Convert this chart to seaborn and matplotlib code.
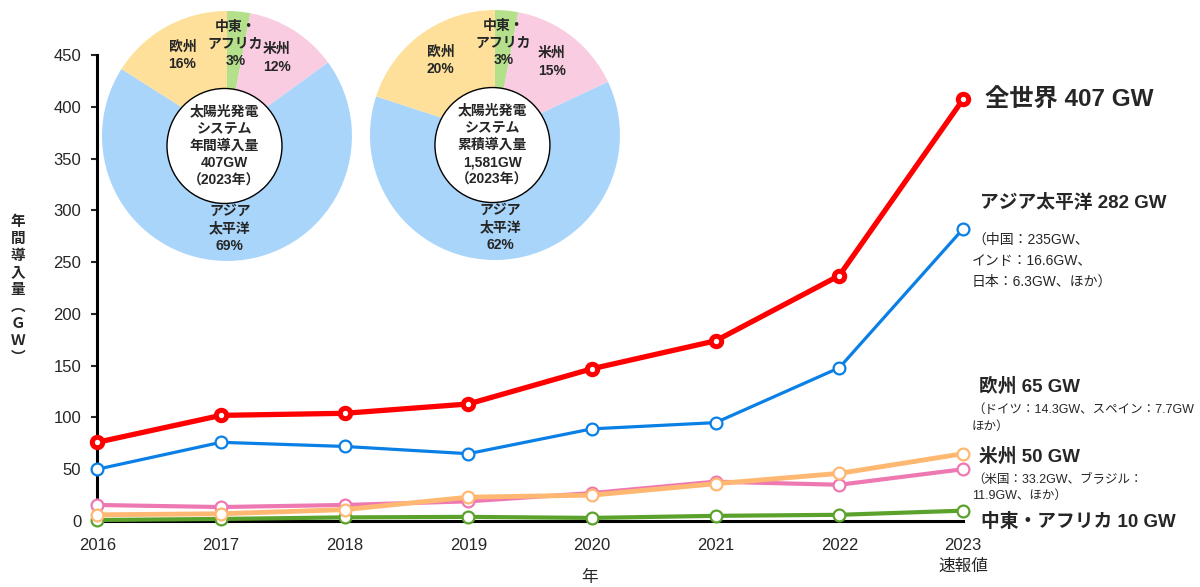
import numpy as np
import pandas as pd
import matplotlib
matplotlib.use('Agg')
import matplotlib.pyplot as plt
import matplotlib.patches as patches
import seaborn as sns

sns.set_style('white')
plt.rcParams['font.family'] = ['Liberation Sans', 'Noto Sans CJK JP']

# annual PV installations (GW)
years = [2016, 2017, 2018, 2019, 2020, 2021, 2022, 2023]
world = [76, 102, 104, 113, 147, 174, 237, 407]
asia = [50, 76, 72, 65, 89, 95, 148, 282]
europe = [6, 7, 11, 23, 25, 36, 46, 65]
americas = [15.5, 13.5, 15.5, 19, 27, 38, 35, 50]
mea = [1, 2, 3.5, 4, 3, 5, 6, 10]
year_labels = ['2016', '2017', '2018', '2019', '2020', '2021', '2022', '2023\n速報値']

# pie shares (%), order clockwise from top
pie_regions = ['中東・\nアフリカ', '米州', 'アジア\n太平洋', '欧州']
annual_share = [3, 12, 69, 16]
cumulative_share = [3, 15, 62, 20]
pie_colors = ['#B5E08B', '#F9CCE1', '#A9D5FB', '#FEE09A']

fig = plt.figure(figsize=(12, 5.87), dpi=100)
ax = fig.add_axes([0.081, 0.1124, 0.7215, 0.794])

series = [
    (mea, '#5BA22D', 3.0),
    (americas, '#EE78B2', 3.0),
    (europe, '#FFB872', 3.5),
    (asia, '#0A7FE6', 2.3),
]
for vals, c, lw in series:
    sns.lineplot(x=years, y=vals, ax=ax, color=c, lw=lw, marker='o', markersize=8.5,
                 markerfacecolor='white', markeredgecolor=c, markeredgewidth=1.6,
                 clip_on=False, zorder=3)
sns.lineplot(x=years, y=world, ax=ax, color='#FF0000', lw=3.8, marker='o', markersize=7.5,
             markerfacecolor='white', markeredgecolor='#FF0000', markeredgewidth=3.6,
             clip_on=False, zorder=4)

ax.set_xlim(2016, 2023)
ax.set_ylim(0, 450)
ax.set_yticks(range(0, 451, 50))
ax.set_xticks(years, year_labels)
for s in ['top', 'right']:
    ax.spines[s].set_visible(False)
for s in ['left', 'bottom']:
    ax.spines[s].set_linewidth(2.2)
    ax.spines[s].set_color('black')
ax.tick_params(axis='y', direction='out', length=4.5, width=1.5, pad=7, labelsize=12, left=True)
ax.tick_params(axis='x', length=0, pad=12, labelsize=12)
for lab in ax.get_xticklabels():
    lab.set_linespacing(1.5)
    lab.set_va('top')
ax.set_xlabel('')
ax.set_ylabel('')

fig.text(18 / 1200, 1 - 290 / 587, '年\n間\n導\n入\n量\n︵\nＧ\nＷ\n︶', fontsize=10.5,
         fontweight='bold', ha='center', va='center', linespacing=1.28)
fig.text(590 / 1200, 1 - 577 / 587, '年', fontsize=12, ha='center', va='center')

# right side annotations
def rtext(x, y, s, size, bold=True, ls=1.2):
    fig.text(x / 1200, 1 - y / 587, s, fontsize=size, fontweight='bold' if bold else 'normal',
             ha='left', va='center', linespacing=ls)

rtext(985, 100, '全世界 407 GW', 17.5)
rtext(980, 203, 'アジア太平洋 282 GW', 13.5)
rtext(972, 260.5, '（中国：235GW、\nインド：16.6GW、\n日本：6.3GW、ほか）', 10, bold=False, ls=1.62)
rtext(979, 387, '欧州 65 GW', 13.5)
rtext(972, 418.5, '（ドイツ：14.3GW、スペイン：7.7GW\nほか）', 9, bold=False, ls=1.5)
rtext(979, 457, '米州 50 GW', 13.5)
rtext(972, 487.5, '（米国：33.2GW、ブラジル：\n11.9GW、ほか）', 9, bold=False, ls=1.5)
rtext(981, 522, '中東・アフリカ 10 GW', 13.5)

# pies
def draw_pie(rect, shares, center_text):
    pax = fig.add_axes(rect)
    labels = [f'{r}\n{v}%' for r, v in zip(pie_regions, shares)]
    wedges, texts = pax.pie(shares, colors=pie_colors, startangle=90, counterclock=False,
                            labels=labels, labeldistance=0.74,
                            wedgeprops=dict(linewidth=0),
                            textprops=dict(fontsize=10, fontweight='bold', linespacing=1.3))
    for t in texts:
        t.set_ha('center')
        t.set_va('center')
    pax.add_patch(patches.Circle((-0.02, -0.08), 0.46, facecolor='white', edgecolor='black',
                                 lw=1.0, zorder=5))
    pax.text(-0.02, -0.08, center_text, ha='center', va='center', fontsize=10,
             fontweight='bold', linespacing=1.3, zorder=6)
    pax.set_aspect('equal')
    pax.set_xlim(-1, 1)
    pax.set_ylim(-1, 1)
    pax.axis('off')
    return pax

draw_pie([0.085, 0.5554, 0.2083, 0.4259], annual_share,
         '太陽光発電\nシステム\n年間導入量\n407GW\n（2023年）')
draw_pie([0.3083, 0.557, 0.2083, 0.4259], cumulative_share,
         '太陽光発電\nシステム\n累積導入量\n1,581GW\n（2023年）')

plt.savefig('out.png', dpi=100)
